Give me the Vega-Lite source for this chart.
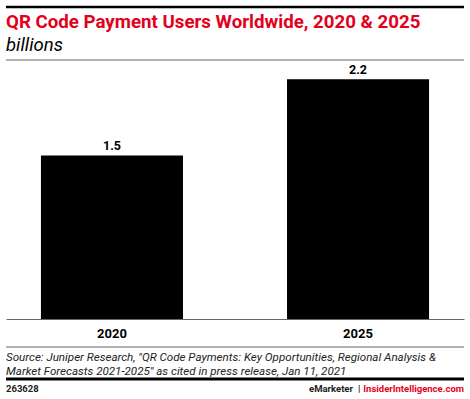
{
  "$schema": "https://vega.github.io/schema/vega-lite/v6.json",
  "width": 458,
  "height": 259,
  "autosize": {"type": "none"},
  "padding": {"left": 6, "top": 60, "right": 6, "bottom": 80},
  "background": "white",
  "config": {"view": {"stroke": null}, "font": "Roboto"},
  "datasets": {
    "users": [
      {"year": "2020", "value": 1.5},
      {"year": "2025", "value": 2.2}
    ]
  },
  "resolve": {"scale": {"x": "independent"}},
  "layer": [
    {
      "data": {"name": "users"},
      "encoding": {
        "x": {
          "field": "year",
          "type": "nominal",
          "scale": {"paddingInner": 0.4228, "paddingOuter": 0.142},
          "axis": {
            "title": null,
            "labelAngle": 0,
            "labelFont": "Roboto",
            "labelFontSize": 13,
            "labelFontWeight": "bold",
            "labelColor": "#000000",
            "labelPadding": 8,
            "ticks": false,
            "domainColor": "#666666",
            "domainWidth": 1,
            "grid": false
          }
        },
        "y": {
          "field": "value",
          "type": "quantitative",
          "scale": {"domain": [0, 2.376], "nice": false, "zero": true},
          "axis": null
        }
      },
      "layer": [
        {"mark": {"type": "bar", "color": "#000000"}},
        {
          "mark": {"type": "text", "dy": -9, "fontSize": 12.5, "fontWeight": "bold", "font": "Roboto", "color": "#000000"},
          "encoding": {"text": {"field": "value", "type": "quantitative", "format": ".1f"}}
        }
      ]
    },
    {
      "data": {"values": [{}]},
      "encoding": {
        "x": {"datum": 0, "type": "quantitative", "scale": {"domain": [0, 1], "nice": false, "zero": false}, "axis": null}
      },
      "layer": [
        {"mark": {"type": "rule", "color": "#000000", "strokeWidth": 2.5}, "encoding": {"x2": {"datum": 1}, "y": {"datum": 2.862}}},
        {"mark": {"type": "rule", "color": "#666666", "strokeWidth": 1}, "encoding": {"x2": {"datum": 1}, "y": {"datum": 2.376}}},
        {"mark": {"type": "rule", "color": "#666666", "strokeWidth": 1}, "encoding": {"x2": {"datum": 1}, "y": {"datum": -0.257}}},
        {"mark": {"type": "rule", "color": "#000000", "strokeWidth": 3}, "encoding": {"x2": {"datum": 1}, "y": {"datum": -0.55}}},
        {
          "mark": {"type": "text", "align": "left", "baseline": "alphabetic", "fontSize": 18.7, "fontWeight": "bold", "color": "#e3001b"},
          "encoding": {"y": {"datum": 2.67}, "text": {"value": "QR Code Payment Users Worldwide, 2020 & 2025"}}
        },
        {
          "mark": {"type": "text", "align": "left", "baseline": "alphabetic", "fontSize": 18.5, "fontStyle": "italic", "fontWeight": "normal", "color": "#000000"},
          "encoding": {"y": {"datum": 2.455}, "text": {"value": "billions"}}
        },
        {
          "mark": {"type": "text", "align": "left", "baseline": "alphabetic", "font": "Roboto", "fontSize": 11.6, "fontStyle": "italic", "fontWeight": "normal", "color": "#222222", "lineHeight": 13.6},
          "encoding": {"y": {"datum": -0.388}, "text": {"value": ["Source: Juniper Research, \"QR Code Payments: Key Opportunities, Regional Analysis &", "Market Forecasts 2021-2025\" as cited in press release, Jan 11, 2021"]}}
        },
        {
          "mark": {"type": "text", "align": "left", "baseline": "alphabetic", "fontSize": 9.5, "fontWeight": "bold", "color": "#222222"},
          "encoding": {"y": {"datum": -0.67}, "text": {"value": "263628"}}
        },
        {
          "mark": {"type": "text", "align": "right", "baseline": "alphabetic", "fontSize": 9.5, "fontWeight": "bold", "color": "#e3001b"},
          "encoding": {"x": {"datum": 1}, "y": {"datum": -0.67}, "text": {"value": "InsiderIntelligence.com"}}
        },
        {
          "mark": {"type": "text", "align": "center", "baseline": "alphabetic", "fontSize": 9.5, "fontWeight": "bold", "color": "#222222"},
          "encoding": {"x": {"datum": 0.771}, "y": {"datum": -0.67}, "text": {"value": "|"}}
        },
        {
          "mark": {"type": "text", "align": "right", "baseline": "alphabetic", "fontSize": 9.5, "fontWeight": "bold", "color": "#222222"},
          "encoding": {"x": {"datum": 0.7576}, "y": {"datum": -0.67}, "text": {"value": "eMarketer"}}
        }
      ]
    }
  ]
}
